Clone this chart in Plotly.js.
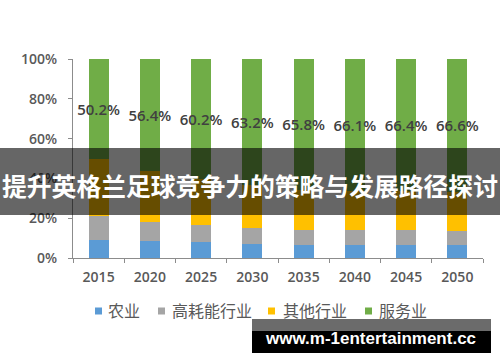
<!DOCTYPE html>
<html>
<head>
<meta charset="utf-8">
<script src="https://cdn.plot.ly/plotly-3.0.1.min.js"></script>
<style>
html,body{margin:0;padding:0;background:#fff;}
#chart{width:500px;height:362px;}
</style>
</head>
<body>
<div id="chart"></div>
<script>
// ---- data ----
const years = ["2015", "2020", "2025", "2030", "2035", "2040", "2045", "2050"];
const seriesNames = ["农业", "高耗能行业", "其他行业", "服务业"];
const agriculture = [8.8, 8.6, 7.8, 7.0, 6.6, 6.6, 6.6, 6.4];
const energyIntensive = [12.1, 9.7, 9.0, 8.1, 7.5, 7.5, 7.5, 7.4];
const otherIndustry = [28.9, 25.3, 23.0, 21.7, 20.1, 19.8, 19.5, 19.6];
const services = [50.2, 56.4, 60.2, 63.2, 65.8, 66.1, 66.4, 66.6];
const yTickVals = [0, 20, 40, 60, 80, 100];
const yTickText = ["0%", "20%", "40%", "60%", "80%", "100%"];
const bannerText = "提升英格兰足球竞争力的策略与发展路径探讨";
const watermarkText = "www.m-1entertainment.cc";

// ---- styles ----
const colors = ["#5b9bd5", "#a5a5a5", "#ffc000", "#70ad47"];
const legendSquareX = [95, 158, 268, 365];   // pixel positions of legend keys
const legendTextX = [106, 170, 281, 377];
const values = [agriculture, energyIntensive, otherIndustry, services];

const traces = values.map((v, i) => {
  const t = {
    type: "bar",
    name: seriesNames[i],
    x: years,
    y: v,
    marker: {color: colors[i], line: {width: 0}},
    hoverinfo: "skip"
  };
  if (i === 3) {
    t.texttemplate = "%{y:.1f}%";
    t.textposition = "inside";
    t.insidetextanchor = "middle";
    t.textangle = 0;
    t.constraintext = "none";
    t.textfont = {family: "Open Sans, sans-serif", size: 15, color: "#404040", weight: 600};
  } else {
    t.textposition = "none";
  }
  return t;
});

const W = 500, H = 362;
const L = 73, R = 17, T = 59, B = 104;
const pw = W - L - R, ph = H - T - B;
const px = x => (x - L) / pw;
const py = y => (H - B - y) / ph;

const shapes = [
  {type: "rect", xref: "paper", yref: "paper", layer: "above",
   x0: px(-2), x1: px(502), y0: py(148), y1: py(215),
   fillcolor: "rgba(0,0,0,0.6)", line: {width: 0}},
  {type: "rect", xref: "paper", yref: "paper", layer: "above",
   x0: px(252), x1: px(491), y0: py(319), y1: py(331),
   fillcolor: "#6b6b6b", line: {width: 0}},
  {type: "rect", xref: "paper", yref: "paper", layer: "above",
   x0: px(252), x1: px(491), y0: py(331), y1: py(353),
   fillcolor: "#000000", line: {width: 0}}
];
const annotations = [
  {xref: "paper", yref: "paper", x: px(250), y: py(185),
   xanchor: "center", yanchor: "middle", showarrow: false,
   text: "<b>" + bannerText + "</b>",
   font: {family: "Noto Sans CJK SC, sans-serif", size: 24.8, color: "#ffffff"}},
  {xref: "paper", yref: "paper", x: px(370), y: py(338),
   xanchor: "center", yanchor: "middle", showarrow: false,
   text: "<b>" + watermarkText + "</b>",
   font: {family: "Liberation Sans, Arial, sans-serif", size: 17, color: "#ffffff"}}
];
// legend keys (drawn as a row under the axis)
seriesNames.forEach((name, i) => {
  shapes.push({type: "rect", xref: "paper", yref: "paper", layer: "above",
    x0: px(legendSquareX[i]), x1: px(legendSquareX[i] + 7),
    y0: py(307.5), y1: py(314.5),
    fillcolor: colors[i], line: {width: 0}});
  annotations.push({xref: "paper", yref: "paper",
    x: px(legendTextX[i]), y: py(309.5),
    xanchor: "left", yanchor: "middle", showarrow: false,
    text: name,
    font: {family: "Noto Sans CJK SC, sans-serif", size: 16, color: "#595959"}});
});

const layout = {
  width: W, height: H,
  margin: {l: L, r: R, t: T, b: B, pad: 0},
  paper_bgcolor: "#ffffff",
  plot_bgcolor: "#ffffff",
  barmode: "stack",
  bargap: 0.61,
  showlegend: false,
  xaxis: {
    type: "category",
    showline: true, linecolor: "#8c8c8c", linewidth: 1,
    ticks: "outside", ticklen: 4, tickcolor: "#8c8c8c",
    tickson: "boundaries",
    showgrid: false, zeroline: false,
    tickfont: {family: "Open Sans, sans-serif", size: 14, color: "#595959", weight: 600},
    ticklabelstandoff: 6,
    fixedrange: true
  },
  yaxis: {
    range: [0, 100],
    tickvals: yTickVals, ticktext: yTickText,
    showline: true, linecolor: "#8c8c8c", linewidth: 1,
    ticks: "outside", ticklen: 4, tickcolor: "#8c8c8c",
    showgrid: false, zeroline: false,
    tickfont: {family: "Open Sans, sans-serif", size: 14, color: "#595959", weight: 600},
    ticklabelstandoff: 8,
    fixedrange: true
  },
  shapes: shapes,
  annotations: annotations
};

Plotly.newPlot("chart", traces, layout, {staticPlot: true, displayModeBar: false});
</script>
</body>
</html>
